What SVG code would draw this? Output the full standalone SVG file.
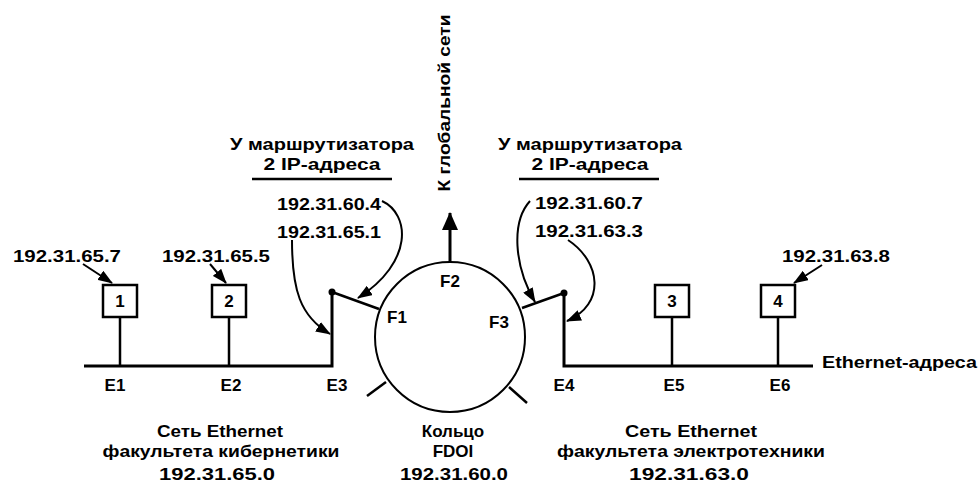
<svg xmlns="http://www.w3.org/2000/svg" width="979" height="483" viewBox="0 0 979 483">
<style>
text{font-family:"Liberation Sans",Arial,sans-serif;font-weight:bold;font-size:17px;fill:#000}
.mid{text-anchor:middle}
.ln{stroke:#000;fill:none;stroke-width:2.5}
.thick{stroke:#000;fill:none;stroke-width:3}
.arr{stroke:#000;fill:none;stroke-width:2;marker-end:url(#ah)}
.box{fill:#fff;stroke:#000;stroke-width:2.5}
</style>
<defs>
<marker id="ah" markerUnits="userSpaceOnUse" markerWidth="15" markerHeight="11" refX="14" refY="5.5" orient="auto"><path d="M0,0 L15,5.5 L0,11 z" fill="#000"/></marker>
<marker id="ahBig" markerUnits="userSpaceOnUse" markerWidth="18" markerHeight="16" refX="17" refY="8" orient="auto"><path d="M0,0 L18,8 L0,16 z" fill="#000"/></marker>
</defs>
<rect width="979" height="483" fill="#fff"/>

<g id="labels-top">
<text class="mid" transform="translate(450,103) rotate(-90)" textLength="177" lengthAdjust="spacingAndGlyphs">К глобальной сети</text>
<text class="mid" x="322" y="150" textLength="184" lengthAdjust="spacingAndGlyphs">У маршрутизатора</text>
<text class="mid" x="322" y="170" textLength="117" lengthAdjust="spacingAndGlyphs">2 IP-адреса</text>
<line class="ln" x1="252" y1="179" x2="392" y2="179"/>
<text class="mid" x="590" y="150" textLength="184" lengthAdjust="spacingAndGlyphs">У маршрутизатора</text>
<text class="mid" x="590" y="170" textLength="117" lengthAdjust="spacingAndGlyphs">2 IP-адреса</text>
<line class="ln" x1="519" y1="179" x2="659" y2="179"/>
<text x="277" y="210" textLength="104" lengthAdjust="spacingAndGlyphs">192.31.60.4</text>
<text x="277" y="238" textLength="104" lengthAdjust="spacingAndGlyphs">192.31.65.1</text>
<text x="535" y="209" textLength="108" lengthAdjust="spacingAndGlyphs">192.31.60.7</text>
<text x="535" y="237" textLength="108" lengthAdjust="spacingAndGlyphs">192.31.63.3</text>
</g>

<g id="host1">
<text x="13" y="262" textLength="108" lengthAdjust="spacingAndGlyphs">192.31.65.7</text>
<rect class="box" x="103" y="285" width="34" height="32"/>
<text class="mid" x="120" y="307">1</text>
</g>
<g id="host2">
<text x="162" y="262" textLength="108" lengthAdjust="spacingAndGlyphs">192.31.65.5</text>
<rect class="box" x="212" y="285" width="34" height="32"/>
<text class="mid" x="229" y="307">2</text>
</g>
<g id="host3">
<rect class="box" x="655" y="285" width="34" height="32"/>
<text class="mid" x="672" y="307">3</text>
</g>
<g id="host4">
<text x="782" y="262" textLength="108" lengthAdjust="spacingAndGlyphs">192.31.63.8</text>
<rect class="box" x="761" y="285" width="34" height="32"/>
<text class="mid" x="778" y="307">4</text>
</g>

<g id="router-left">
<circle cx="332" cy="292" r="3.5" fill="#000"/>
</g>
<g id="router-right">
<circle cx="564" cy="293" r="3.5" fill="#000"/>
</g>

<g id="fddi-ring">
<circle cx="450" cy="337" r="75" fill="none" stroke="#000" stroke-width="2"/>
<line class="ln" x1="386" y1="382" x2="367" y2="396"/>
<line class="ln" x1="509" y1="387" x2="527" y2="403"/>
<text class="mid" x="450" y="287">F2</text>
<text class="mid" x="397" y="323">F1</text>
<text class="mid" x="499" y="328">F3</text>
<text class="mid" x="453" y="437">Кольцо</text>
<text class="mid" x="453" y="457">FDOI</text>
<text class="mid" x="454" y="480" textLength="108" lengthAdjust="spacingAndGlyphs">192.31.60.0</text>
</g>

<g id="ethernet-left">
<text class="mid" x="115" y="391">E1</text>
<text class="mid" x="231" y="391">E2</text>
<text class="mid" x="337" y="391">E3</text>
<text class="mid" x="220" y="437" textLength="126" lengthAdjust="spacingAndGlyphs">Сеть Ethernet</text>
<text class="mid" x="221" y="457" textLength="237" lengthAdjust="spacingAndGlyphs">факультета кибернетики</text>
<text class="mid" x="217" y="480" textLength="116" lengthAdjust="spacingAndGlyphs">192.31.65.0</text>
</g>

<g id="ethernet-right">
<text class="mid" x="564" y="391">E4</text>
<text class="mid" x="674" y="391">E5</text>
<text class="mid" x="780" y="391">E6</text>
<text x="822" y="368" textLength="155" lengthAdjust="spacingAndGlyphs">Ethernet-адреса</text>
<text class="mid" x="691" y="437" textLength="132" lengthAdjust="spacingAndGlyphs">Сеть Ethernet</text>
<text class="mid" x="691" y="457" textLength="268" lengthAdjust="spacingAndGlyphs">факультета электротехники</text>
<text class="mid" x="689" y="480" textLength="120" lengthAdjust="spacingAndGlyphs">192.31.63.0</text>
</g>

<g id="connectors">
<polyline class="thick" points="84,366 332,366 332,292"/>
<line class="ln" x1="332" y1="292" x2="379" y2="309"/>
<polyline class="thick" points="813,366 564,366 564,293"/>
<line class="ln" x1="564" y1="293" x2="522" y2="308"/>
<line class="ln" x1="120" y1="317" x2="120" y2="366"/>
<line class="ln" x1="229" y1="317" x2="229" y2="366"/>
<line class="ln" x1="672" y1="317" x2="672" y2="366"/>
<line class="ln" x1="778" y1="317" x2="778" y2="366"/>
<line x1="450" y1="262" x2="450" y2="213" stroke="#000" stroke-width="3" marker-end="url(#ahBig)"/>
<path class="arr" d="M83,264 L112,283"/>
<path class="arr" d="M210,264 L226,283"/>
<path class="arr" d="M822,265 L794,283"/>
<path class="arr" d="M292,240 C292,290 300,316 330,334"/>
<path class="arr" d="M382,201 C410,214 414,262 358,298"/>
<path class="arr" d="M530,201 C511,222 514,266 535,302"/>
<path class="arr" d="M568,240 C601,262 606,304 567,321"/>
</g>
</svg>
